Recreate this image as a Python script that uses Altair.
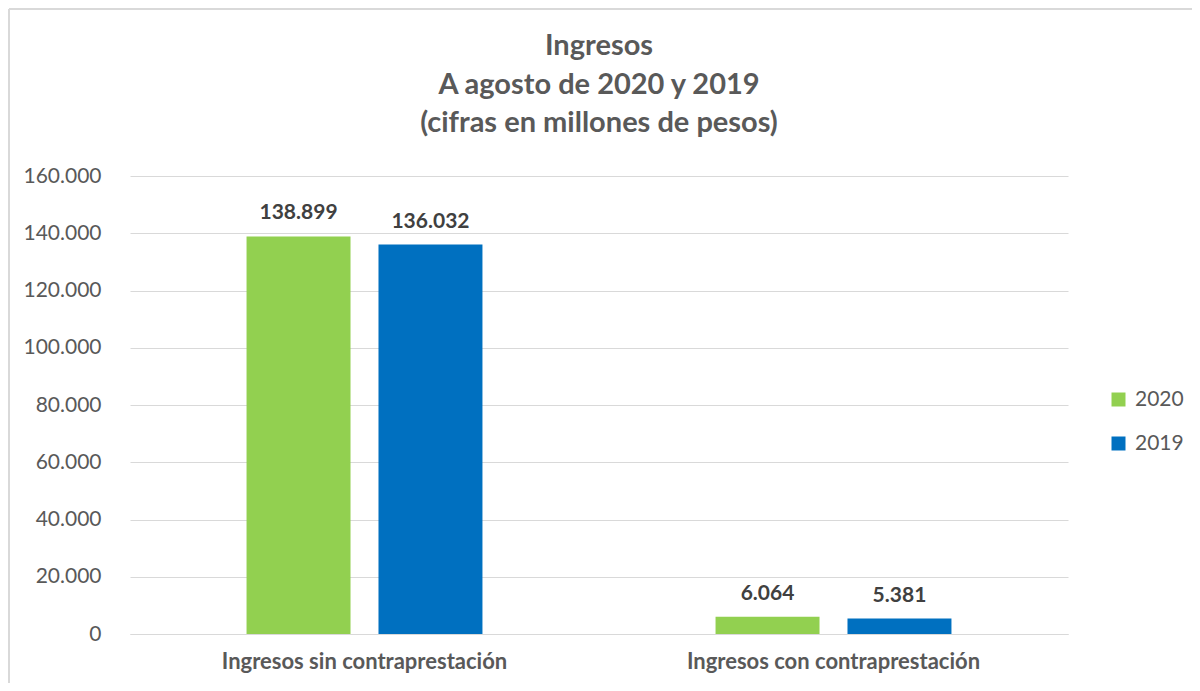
import altair as alt
import pandas as pd

categories = ["Ingresos sin contraprestación", "Ingresos con contraprestación"]
years = ["2020", "2019"]
values_2020 = [138899, 6064]
values_2019 = [136032, 5381]
colors = ["#92d050", "#0070c0"]
y_ticks = [0, 20000, 40000, 60000, 80000, 100000, 120000, 140000, 160000]

rows = []
for i, c in enumerate(categories):
    rows.append({"categoria": c, "anio": "2020", "valor": values_2020[i]})
    rows.append({"categoria": c, "anio": "2019", "valor": values_2019[i]})
df = pd.DataFrame(rows)

FONT = "Lato"
GREY = "#595959"

x_enc = alt.X(
    "categoria:N",
    sort=categories,
    scale=alt.Scale(paddingInner=0.497, paddingOuter=0.2485),
    axis=alt.Axis(
        title=None, labelAngle=0, labelFontSize=22, labelFontWeight="bold",
        labelColor=GREY, labelFont=FONT, ticks=False, grid=False, domainColor="#d9d9d9",
        domainWidth=1, labelPadding=17, labelLimit=500,
    ),
)
xoff_enc = alt.XOffset("anio:N", sort=years, scale=alt.Scale(paddingInner=0.212, paddingOuter=0))
y_enc = alt.Y(
    "valor:Q",
    scale=alt.Scale(domain=[0, 160000]),
    axis=alt.Axis(
        title=None, values=y_ticks, format=",d", labelFontSize=21, labelColor=GREY,
        labelFont=FONT, ticks=False, domain=False, gridColor="#d9d9d9",
        gridWidth=1, labelPadding=29,
    ),
)

base = alt.Chart(df).encode(x=x_enc, xOffset=xoff_enc, y=y_enc)

bars = base.mark_bar().encode(
    color=alt.Color(
        "anio:N", sort=years,
        scale=alt.Scale(domain=years, range=colors),
        legend=alt.Legend(
            title=None, orient="none", legendX=978, legendY=213,
            symbolType="square", symbolSize=196, symbolStrokeWidth=0,
            labelFontSize=21, labelColor=GREY, labelFont=FONT,
            rowPadding=22, labelOffset=6, padding=0,
        ),
    )
)

labels = base.mark_text(
    baseline="alphabetic", dy=-17, fontSize=21, fontWeight="bold",
    color="#404040", font=FONT,
).encode(text=alt.Text("valor:Q", format=",d"))

frame = pd.DataFrame({"b": [0]})
border_top = alt.Chart(frame).mark_rule(color="#d9d9d9", strokeWidth=2).encode(
    x=alt.value(-121), x2=alt.value(1062), y=alt.value(-167), y2=alt.value(-167)
)
border_left = alt.Chart(frame).mark_rule(color="#d9d9d9", strokeWidth=2).encode(
    x=alt.value(-121), x2=alt.value(-121), y=alt.value(-167), y2=alt.value(520)
)

chart = alt.layer(border_top, border_left, bars, labels).properties(
    width=938,
    height=458,
    autosize=alt.AutoSizeParams(type="none"),
    padding={"left": 122, "top": 168, "right": 124, "bottom": 49},
    title=alt.Title(
        ["Ingresos", "A agosto de 2020 y 2019", "(cifras en millones de pesos)"],
        fontSize=29, font=FONT, fontWeight="bold", color=GREY,
        anchor="middle", lineHeight=38.5, offset=-130,
    ),
).configure(
    locale={"number": {"decimal": ",", "thousands": ".", "grouping": [3], "currency": ["$", ""]}}
).configure_view(stroke="transparent", strokeWidth=0)

chart.save("out.html", embed_options={"renderer": "svg", "actions": False})
